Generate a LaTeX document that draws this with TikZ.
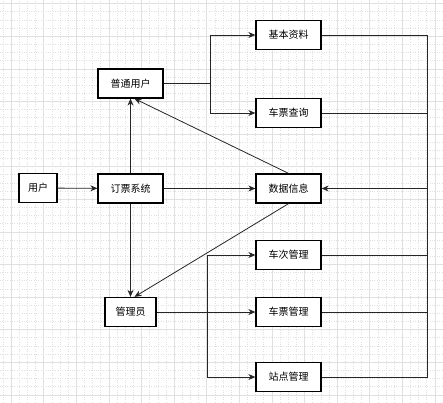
\documentclass[tikz,border=0pt]{standalone}
\usepackage{fontspec}
\newfontfamily\cjk{Noto Sans CJK SC}
\usetikzlibrary{arrows.meta}

\tikzset{
  box/.style={draw, line width=1.3pt, minimum width=65pt, minimum height=29pt,
    inner sep=0pt, fill=white, font=\cjk\fontsize{10}{12}\selectfont},
  plain/.style={draw=black!85, line width=0.8pt},
  link/.style={plain, -{Stealth[length=7pt,width=6pt]}},
}

\begin{document}
\begin{tikzpicture}[x=1pt,y=-1pt]
    \useasboundingbox (0,0) rectangle (443,402);
    \fill[white] (0,0) rectangle (443,402);

    % background grid
    \begin{scope}[shift={(11,3.5)}]
      \draw[black!12, dotted, step=8.15pt] (-11,-3.5) grid (432,398.5);
      \draw[black!12, step=32.6pt] (-11,-3.5) grid (432,398.5);
    \end{scope}

    \node[box] (basic) at (288.5,35) {基本资料};
    \node[box] (user) at (130.5,83.5) {普通用户};
    \node[box] (query) at (288.5,113) {车票查询};
    \node[box, minimum width=38pt] (login) at (38,188) {用户};
    \node[box] (system) at (130.5,188.5) {订票系统};
    \node[box] (data) at (288.5,188.5) {数据信息};
    \node[box] (train) at (288.5,255) {车次管理};
    \node[box, minimum width=51pt] (admin) at (130.5,312) {管理员};
    \node[box] (ticket) at (288.5,312) {车票管理};
    \node[box] (station) at (288.5,377) {站点管理};

    \coordinate (ujoin) at (210,83.5);
    \coordinate (ajoin) at (207,312);
    \coordinate (bus) at (427,188.5);

    \draw[link] (login) -- (system);
    \draw[link] (system) -- (data);
    \draw[link] (system) -- (user);
    \draw[link] (system) -- (admin);
    \draw[link] (data.north) -- ([xshift=4pt]user.south);
    \draw[link] (data.south) -- ([xshift=4pt]admin.north);

    \draw[plain] (user) -- (ujoin);
    \draw[link] (ujoin) |- (basic);
    \draw[link] (ujoin) |- (query);

    \draw[link] (admin) -- (ticket);
    \draw[link] (ajoin) |- (train);
    \draw[link] (ajoin) |- (station);

    \draw[plain] (basic) -| (bus) |- (station);
    \draw[plain] (query) -- (query -| bus);
    \draw[plain] (train) -- (train -| bus);
    \draw[plain] (ticket) -- (ticket -| bus);
    \draw[link] (bus) -- (data);
  \end{tikzpicture}
\end{document}
